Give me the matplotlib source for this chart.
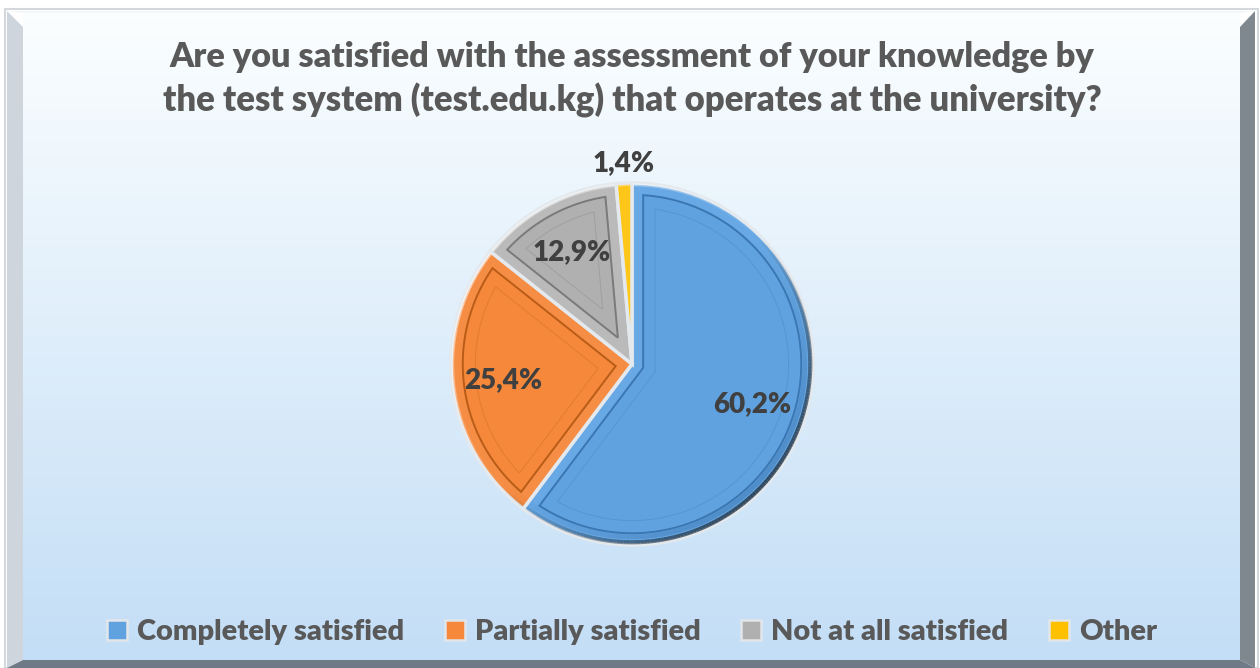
import numpy as np
import matplotlib
matplotlib.use('Agg')
import matplotlib.pyplot as plt
from matplotlib.patches import Polygon, Patch
from matplotlib.collections import LineCollection
from matplotlib.colors import to_rgb

categories = ['Completely satisfied', 'Partially satisfied', 'Not at all satisfied', 'Other']
values = [60.2, 25.4, 12.9, 1.4]
value_labels = ['60,2%', '25,4%', '12,9%', '1,4%']
title_lines = ['Are you satisfied with the assessment of your knowledge by',
               'the test system (test.edu.kg) that operates at the university?']

colors = ['#60a2df', '#f5883a', '#b0b0b0', '#ffc000']
band_colors = ['#68a9e5', '#f68d44', '#bababa', '#ffc61a']
dark = ['#3a76b2', '#b95c18', '#7a7a7a', '#a37a00']
label_dist = [0.70, 0.72, 0.70, 1.11]

FONT = 'Lato'
WEIGHT = 800
TXT = '#595959'
W, H = 1260, 668
fig = plt.figure(figsize=(W / 100, H / 100), dpi=100)
fig.patch.set_facecolor('white')

def fx(x):
    return x / W

def fy(y):
    return 1 - y / H

# ---- background & frame (pixel coords) ----
bg = fig.add_axes([0, 0, 1, 1])
bg.set_xlim(0, W)
bg.set_ylim(H, 0)
bg.axis('off')
top_c = np.array([0.985, 0.997, 1.0])
bot_c = np.array([0.765, 0.870, 0.965])
t = np.linspace(0, 1, 256)[:, None]
grad = (top_c[None, :] * (1 - t) + bot_c[None, :] * t)[:, None, :]
bg.imshow(grad, extent=[23, 1240, 660, 12], aspect='auto', zorder=0)
bg.add_patch(Polygon([(5, 9), (1258, 9), (1258, 668), (5, 668)], closed=True,
                     facecolor='none', edgecolor='#d4d8dc', lw=1.5, zorder=1))
bg.add_patch(Polygon([(7, 11), (23, 27), (23, 660), (7, 668)], closed=True,
                     facecolor='#cfd5dc', edgecolor='none', zorder=2))
bg.add_patch(Polygon([(1255, 11), (1240, 27), (1240, 660), (1255, 668)], closed=True,
                     facecolor='#7f888f', edgecolor='none', zorder=2))
bg.add_patch(Polygon([(23, 660), (1240, 660), (1255, 668), (7, 668)], closed=True,
                     facecolor='#6e7b86', edgecolor='none', zorder=3))
bg.add_patch(Polygon([(7, 11), (1255, 11), (1240, 13), (23, 13)], closed=True,
                     facecolor='#f4f6f8', edgecolor='none', zorder=2))

# ---- pie ----
cx, cy, r_px = 632, 364, 181
ax = fig.add_axes([fx(cx - r_px - 4), fy(cy + r_px + 4), 2 * (r_px + 4) / W, 2 * (r_px + 4) / H])
wedges, _ = ax.pie(values, colors=band_colors, startangle=90, counterclock=False,
                   radius=1.0, wedgeprops=dict(edgecolor='#e4e9ee', linewidth=2.5))
lim = (r_px + 4) / r_px
ax.set_xlim(-lim, lim)
ax.set_ylim(-lim, lim)
ax.set_aspect('auto')
ax.axis('off')


def inset_poly(t1, t2, r, d, n=160):
    a1, a2 = np.radians(t1), np.radians(t2)
    h = (a2 - a1) / 2
    mid = (a1 + a2) / 2
    s = d / np.sin(h) if h < np.pi / 2 else d
    R = r - d
    if s > 0.6 * R:
        return None
    apex = np.array([np.cos(mid), np.sin(mid)]) * s

    def hit(a):
        u = np.array([np.cos(a), np.sin(a)])
        b = apex @ u
        c = apex @ apex - R ** 2
        tt = -b + np.sqrt(b * b - c)
        return apex + tt * u

    p1, p2 = hit(a1), hit(a2)
    b1, b2 = np.arctan2(p1[1], p1[0]), np.arctan2(p2[1], p2[0])
    while b2 <= b1:
        b2 += 2 * np.pi
    arc = np.linspace(b1, b2, n)
    pts = np.vstack([apex, np.c_[R * np.cos(arc), R * np.sin(arc)], apex])
    return pts


def rim(t1, t2, rad, col, lw, strength, light_dir=-45):
    a = np.radians(np.linspace(t1 + 0.6, t2 - 0.6, 200))
    xs, ys = rad * np.cos(a), rad * np.sin(a)
    pts = np.c_[xs, ys]
    segs = np.stack([pts[:-1], pts[1:]], axis=1)
    am = (a[:-1] + a[1:]) / 2
    k = np.clip(np.cos(am - np.radians(light_dir)), 0, 1) * strength
    rgb = np.array(to_rgb(col))
    cols = np.c_[np.tile(rgb, (len(k), 1)), k]
    ax.add_collection(LineCollection(segs, colors=cols, linewidths=lw, zorder=5,
                                     capstyle='butt'))

for i, w in enumerate(wedges):
    w.set_zorder(2)
    p = inset_poly(w.theta1, w.theta2, 1.0, 0.065)
    if p is not None:
        ax.add_patch(Polygon(p, closed=True, facecolor=colors[i], edgecolor=dark[i],
                             lw=1.4, alpha=1.0, zorder=3))
    p2 = inset_poly(w.theta1, w.theta2, 1.0, 0.135)
    if p2 is not None:
        ax.add_patch(Polygon(p2, closed=True, facecolor='none', edgecolor=dark[i],
                             lw=0.7, alpha=0.3, zorder=4))
    rim(w.theta1, w.theta2, 0.985, '#1e2a36', 3.0, 0.75)
    rim(w.theta1, w.theta2, 0.955, dark[i], 3.5, 0.55)
    rim(w.theta1, w.theta2, 0.99, '#ffffff', 2.0, 0.6, light_dir=135)

for i, w in enumerate(wedges):
    mid = np.radians((w.theta1 + w.theta2) / 2)
    d = label_dist[i]
    ax.text(d * np.cos(mid), d * np.sin(mid), value_labels[i], ha='center', va='center',
            fontsize=20, fontweight=WEIGHT, color='#404040', family=FONT, zorder=6,
            clip_on=False)

# ---- title (fit widths) ----
fig.canvas.draw()
renderer = fig.canvas.get_renderer()
title_y = [57, 100]
title_w = [925, 935]
for line, yy, tw in zip(title_lines, title_y, title_w):
    tt = fig.text(fx(632), fy(yy), line, ha='center', va='center', fontsize=20,
                  fontweight=WEIGHT, color=TXT, family=FONT)
    bb = tt.get_window_extent(renderer)
    tt.set_fontsize(20 * tw / bb.width)

# ---- legend ----
handles = [Patch(facecolor=c, edgecolor='#e2e6ea', lw=1.8) for c in colors]
fs = 17
probe = fig.text(0, 0, categories[0], fontsize=fs, fontweight=WEIGHT, family=FONT)
pw = probe.get_window_extent(renderer).width
probe.remove()
fs = fs * 268 / pw
leg_kw = dict(loc='center', bbox_to_anchor=(fx(632), fy(632)), ncol=4, frameon=False,
              handlelength=0.7, handleheight=0.7, handletextpad=0.35, borderpad=0,
              prop=dict(family=FONT, weight=WEIGHT, size=fs), labelcolor=TXT)
leg = fig.legend(handles, categories, columnspacing=1.5, **leg_kw)
fig.canvas.draw()
lw_ = leg.get_window_extent(renderer).width
leg.remove()
fs_px = fs * 100 / 72
cs = 1.5 + (1050 - lw_) / (3 * fs_px)
leg = fig.legend(handles, categories, columnspacing=cs, **leg_kw)

fig.savefig('out.png', dpi=100, facecolor=fig.get_facecolor())
